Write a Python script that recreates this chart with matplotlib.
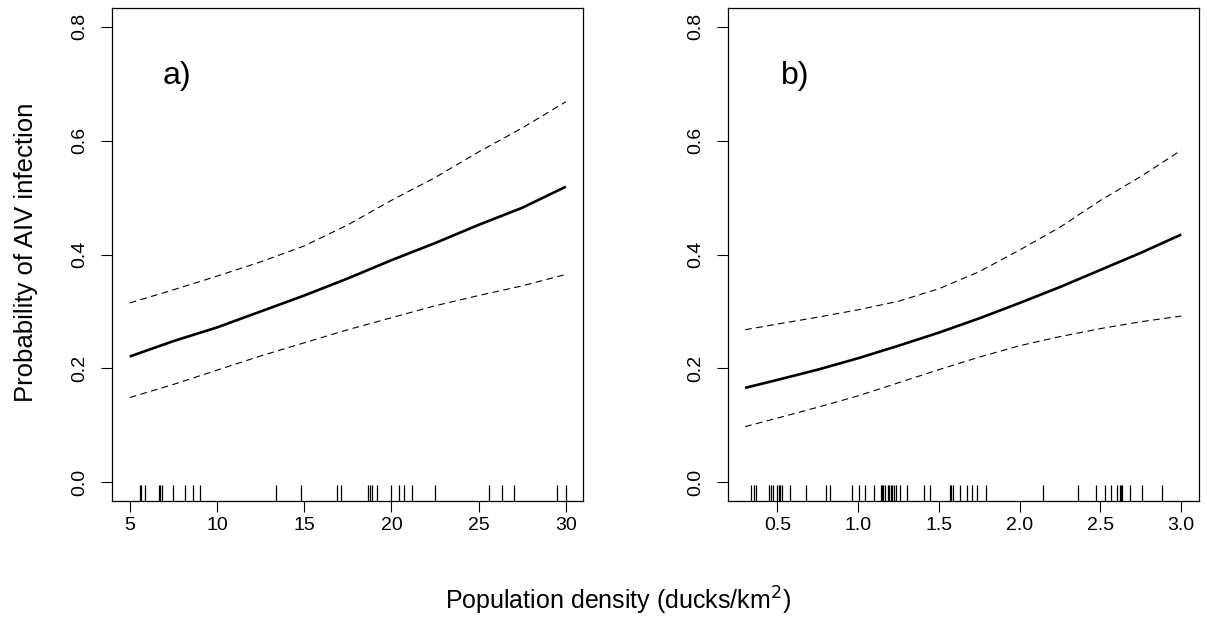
import matplotlib
matplotlib.use("Agg")
import matplotlib.pyplot as plt

plt.rcParams['font.family'] = ['Liberation Sans', 'DejaVu Sans']

# ---- panel a) : density in ducks/km2 (5-30) ----
a_x = [5, 7.5, 10, 12.5, 15, 17.5, 20, 22.5, 25, 27.5, 30]
a_fit = [0.221, 0.248, 0.272, 0.300, 0.328, 0.358, 0.390, 0.420, 0.452, 0.482, 0.519]
a_upper = [0.315, 0.338, 0.362, 0.387, 0.415, 0.452, 0.495, 0.535, 0.580, 0.622, 0.668]
a_lower = [0.149, 0.172, 0.197, 0.222, 0.245, 0.268, 0.289, 0.310, 0.328, 0.345, 0.365]
a_rug = [5.56, 5.67, 5.88, 6.67, 6.74, 6.84, 7.49, 8.14, 8.64, 9.01, 13.38, 14.83,
         16.86, 17.10, 18.67, 18.78, 18.90, 19.20, 20.0, 20.43, 20.70, 21.18, 22.50,
         25.59, 26.33, 27.04, 29.48, 30.0]
a_xticks = [5, 10, 15, 20, 25, 30]
a_xticklabels = ['5', '10', '15', '20', '25', '30']

# ---- panel b) : density (0.3-3.0) ----
b_x = [0.3, 0.5, 0.75, 1.0, 1.25, 1.5, 1.75, 2.0, 2.25, 2.5, 2.75, 3.0]
b_fit = [0.166, 0.180, 0.198, 0.218, 0.240, 0.263, 0.288, 0.315, 0.343, 0.373, 0.403, 0.435]
b_upper = [0.268, 0.278, 0.290, 0.303, 0.318, 0.340, 0.370, 0.408, 0.448, 0.495, 0.537, 0.583]
b_lower = [0.098, 0.113, 0.132, 0.152, 0.175, 0.198, 0.220, 0.240, 0.256, 0.270, 0.282, 0.292]
b_rug = [0.335, 0.355, 0.368, 0.446, 0.459, 0.475, 0.496, 0.508, 0.517, 0.529, 0.575,
         0.676, 0.802, 0.827, 0.962, 1.003, 1.041, 1.096, 1.138, 1.146, 1.154, 1.163,
         1.183, 1.192, 1.200, 1.208, 1.221, 1.233, 1.256, 1.304, 1.407, 1.442, 1.569,
         1.577, 1.585, 1.629, 1.676, 1.705, 1.734, 1.790, 2.144, 2.359, 2.475, 2.525,
         2.564, 2.602, 2.620, 2.629, 2.635, 2.685, 2.759, 2.881]
b_xticks = [0.5, 1.0, 1.5, 2.0, 2.5, 3.0]
b_xticklabels = ['0.5', '1.0', '1.5', '2.0', '2.5', '3.0']

yticks = [0.0, 0.2, 0.4, 0.6, 0.8]
yticklabels = ['0.0', '0.2', '0.4', '0.6', '0.8']
panel_labels = ['a)', 'b)']

W, H = 1207, 624
fig = plt.figure(figsize=(W / 100, H / 100), dpi=100)

def px_axes(l, t, r, b):
    return fig.add_axes([l / W, 1 - b / H, (r - l) / W, (b - t) / H])

ax1 = px_axes(112.3, 8.3, 583.3, 500.7)
ax2 = px_axes(727.7, 8.3, 1198.7, 500.7)

def rspan(lo, hi):
    d = (hi - lo) * 0.04
    return lo - d, hi + d

panels = [
    (ax1, a_x, a_fit, a_upper, a_lower, a_rug, a_xticks, a_xticklabels, (5, 30), (7.7, 0.713)),
    (ax2, b_x, b_fit, b_upper, b_lower, b_rug, b_xticks, b_xticklabels, (0.3, 3.0), (0.61, 0.713)),
]

for i, (ax, x, fit, up, lo, rug, xt, xtl, xr, lab) in enumerate(panels):
    ax.plot(x, fit, color='black', lw=1.9, solid_capstyle='butt')
    ax.plot(x, up, color='black', lw=0.8, dashes=(6, 4))
    ax.plot(x, lo, color='black', lw=0.8, dashes=(6, 4))
    ax.vlines(rug, 0, 0.032, transform=ax.get_xaxis_transform(), color='black', lw=0.9)
    ax.set_xlim(*rspan(*xr))
    ax.set_ylim(*rspan(0, 0.8))
    ax.set_xticks(xt)
    ax.set_xticklabels(xtl)
    ax.set_yticks(yticks)
    ax.set_yticklabels(yticklabels, rotation=90, va='center')
    ax.tick_params(direction='out', length=8, width=0.8, labelsize=14, pad=4, color='black')
    ax.tick_params(axis='y', pad=9)
    for s in ax.spines.values():
        s.set_linewidth(0.9)
    ax.text(lab[0], lab[1], panel_labels[i], fontsize=23, ha='center', va='center')

fig.text(618 / W, 1 - 601 / H, 'Population density (ducks/km$^2$)', ha='center', va='center',
         fontsize=18)
fig.text(26 / W, 1 - 252 / H, 'Probability of AIV infection', rotation=90, ha='center',
         va='center', fontsize=18.5)

fig.savefig('out.png', dpi=100)
